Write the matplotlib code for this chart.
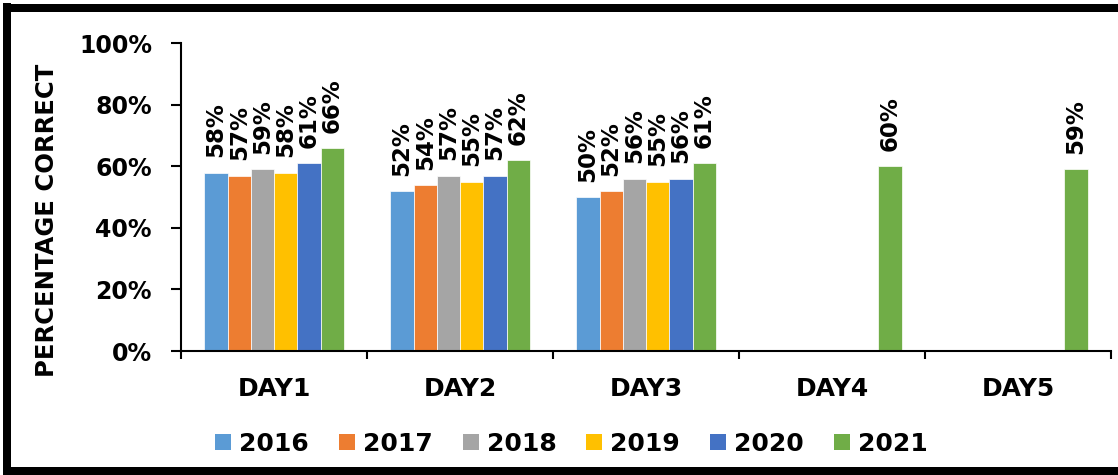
import numpy as np
import matplotlib
matplotlib.use("Agg")
import matplotlib.pyplot as plt
from matplotlib.lines import Line2D
from matplotlib.patches import Patch

plt.rcParams['font.family'] = ['DejaVu Sans']
plt.rcParams['font.weight'] = 'bold'

days = ['DAY1', 'DAY2', 'DAY3', 'DAY4', 'DAY5']
years = ['2016', '2017', '2018', '2019', '2020', '2021']
colors = ['#5B9BD5', '#ED7D31', '#A5A5A5', '#FFC000', '#4472C4', '#70AD47']

# percent correct per year, one entry per day (nan = no exam that day)
pct_2016 = [58, 52, 50, np.nan, np.nan]
pct_2017 = [57, 54, 52, np.nan, np.nan]
pct_2018 = [59, 57, 56, np.nan, np.nan]
pct_2019 = [58, 55, 55, np.nan, np.nan]
pct_2020 = [61, 57, 56, np.nan, np.nan]
pct_2021 = [66, 62, 61, 60, 59]

series = [pct_2016, pct_2017, pct_2018, pct_2019, pct_2020, pct_2021]

fig = plt.figure(figsize=(11.18, 4.75), dpi=100)
ax = fig.add_axes([0.162, 0.261, 0.8317, 0.648])

x = np.arange(len(days))
w = 0.125
for i, (vals, col) in enumerate(zip(series, colors)):
    vals = np.array(vals, dtype=float)
    ok = ~np.isnan(vals)
    pos = x[ok] + (i - 2.5) * w
    ax.bar(pos, vals[ok], width=w, color=col, edgecolor='white',
           linewidth=0.5, zorder=2)
    for xp, v in zip(pos, vals[ok]):
        ax.annotate('%d%%' % v, (xp, v), xytext=(0, 11),
                    textcoords='offset points', rotation=90,
                    ha='center', va='bottom', fontsize=16.5,
                    fontweight='bold')

ax.set_xlim(-0.5, len(days) - 0.5)
ax.set_ylim(0, 100)
ax.set_yticks(np.arange(0, 101, 20))
ax.set_yticklabels(['%d%%' % t for t in range(0, 101, 20)])
ax.tick_params(axis='y', direction='out', length=7, width=1.5,
               labelsize=17, pad=14)

# boundary ticks on the major locator, day names on the minor one
ax.set_xticks(np.arange(-0.5, len(days)), labels=[''] * (len(days) + 1))
ax.set_xticks(x, labels=days, minor=True)
ax.tick_params(axis='x', which='major', direction='out', length=6,
               width=1.5)
ax.tick_params(axis='x', which='minor', length=0, labelsize=18, pad=19)

for side in ['top', 'right']:
    ax.spines[side].set_visible(False)
for side in ['left', 'bottom']:
    ax.spines[side].set_linewidth(1.5)

fig.text(0.042, 0.537, 'PERCENTAGE CORRECT', rotation=90,
         ha='center', va='center', fontsize=17.5, fontweight='bold')

handles = [Patch(facecolor=c, edgecolor='none') for c in colors]
fig.legend(handles, years, loc='center', bbox_to_anchor=(0.511, 0.066),
           ncol=6, frameon=False, fontsize=18, handlelength=0.64,
           handleheight=0.64, handletextpad=0.32, columnspacing=1.2)

# heavy frame around the chart
lw = 8 * 72 / 100
xl, yt, yb = 7 / 1118, 1 - 8 / 475, 1 - 471 / 475
for xs, ys in [([xl, 1.0], [yt, yt]), ([xl, 1.0], [yb, yb]),
               ([xl, xl], [yb - 0.01, yt + 0.01])]:
    fig.add_artist(Line2D(xs, ys, transform=fig.transFigure,
                          color='black', linewidth=lw,
                          solid_capstyle='butt'))

plt.savefig('out.png', dpi=100)
